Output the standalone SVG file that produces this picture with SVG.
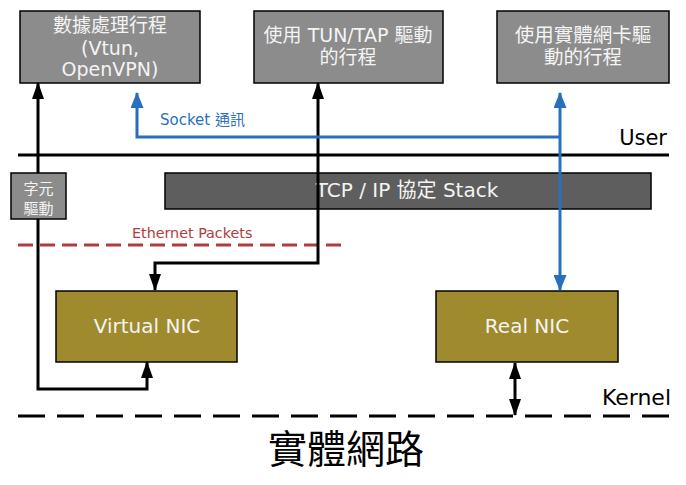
<svg xmlns="http://www.w3.org/2000/svg" width="686" height="485" viewBox="0 0 686 485">
<style>
.t{font-family:"DejaVu Sans","Noto Sans CJK TC",sans-serif;}
.proc{fill:#8c8c8c;stroke:#000;stroke-width:1.5;}
.nic{fill:#9f8b2e;stroke:#000;stroke-width:1.5;}
.wt{fill:#f4f4f4;text-anchor:middle;}
.blk{fill:none;stroke:#000;stroke-width:3;marker-start:url(#ab);marker-end:url(#ab);}
.blu{fill:none;stroke:#2a6fbd;stroke-width:3;}
</style>
<defs>
<marker id="ab" markerUnits="userSpaceOnUse" viewBox="0 0 17 12" markerWidth="17" markerHeight="12" refX="16" refY="6" orient="auto-start-reverse"><path d="M0,0 L17,6 L0,12 Z" fill="#000"/></marker>
<marker id="au" markerUnits="userSpaceOnUse" viewBox="0 0 16 13" markerWidth="16" markerHeight="13" refX="15" refY="6.5" orient="auto-start-reverse"><path d="M0,0 L16,6.5 L0,13 Z" fill="#2a6fbd"/></marker>
</defs>

<g id="user-line">
<line x1="18" y1="155" x2="669" y2="155" stroke="#000" stroke-width="3"/>
<text class="t" x="667" y="145" font-size="21" text-anchor="end" fill="#000">User</text>
</g>
<g id="kernel-line">
<line x1="18" y1="416" x2="673" y2="416" stroke="#000" stroke-width="3" stroke-dasharray="27 12"/>
<text class="t" x="671" y="405" font-size="22" text-anchor="end" fill="#000">Kernel</text>
</g>
<g id="ethernet-line">
<line x1="18" y1="245" x2="345" y2="245" stroke="#b23b3b" stroke-width="3" stroke-dasharray="15 7"/>
<text class="t" x="132" y="238" font-size="14.3" fill="#b23b3b">Ethernet Packets</text>
</g>

<g id="proc1">
<rect class="proc" x="20" y="11" width="180" height="72"/>
<text class="t wt" x="110" y="32" font-size="19">數據處理行程</text>
<text class="t wt" x="110" y="55" font-size="19">(Vtun,</text>
<text class="t wt" x="110" y="76" font-size="19">OpenVPN)</text>
</g>
<g id="proc2">
<rect class="proc" x="254" y="11" width="189" height="72"/>
<text class="t wt" x="348" y="42" font-size="19">使用 TUN/TAP 驅動</text>
<text class="t wt" x="348" y="64" font-size="19">的行程</text>
</g>
<g id="proc3">
<rect class="proc" x="497" y="11" width="172" height="72"/>
<text class="t wt" x="583" y="42" font-size="19.5">使用實體網卡驅</text>
<text class="t wt" x="583" y="64" font-size="19.5">動的行程</text>
</g>
<g id="tcpip">
<rect x="165" y="173" width="486" height="36" fill="#5e5e5e" stroke="#000" stroke-width="1.5"/>
<text class="t wt" x="407" y="197" font-size="20">TCP / IP 協定 Stack</text>
</g>
<g id="virtual-nic">
<rect class="nic" x="56" y="291" width="181" height="71"/>
<text class="t wt" x="147" y="333" font-size="20">Virtual NIC</text>
</g>
<g id="real-nic">
<rect class="nic" x="436" y="291" width="182" height="71"/>
<text class="t wt" x="527" y="333" font-size="20">Real NIC</text>
</g>

<g id="connectors">
<path class="blk" d="M38,83 V389 H147 V362"/>
<path class="blk" d="M318,83 V263 H155 V290"/>
<path class="blu" d="M137,93 V137 H560" marker-start="url(#au)"/>
<path class="blu" d="M560,93 V290" marker-start="url(#au)" marker-end="url(#au)"/>
<path class="blk" d="M515,363 V415"/>
<text class="t" x="160" y="125" font-size="15" fill="#2a6fbd">Socket 通訊</text>
</g>

<g id="char-driver">
<rect class="proc" x="11" y="173" width="55" height="46"/>
<text class="t wt" x="38.5" y="194" font-size="15">字元</text>
<text class="t wt" x="38.5" y="214" font-size="15">驅動</text>
</g>

<g id="network">
<text class="t" x="346" y="463" font-size="39" text-anchor="middle" fill="#000">實體網路</text>
</g>
</svg>
